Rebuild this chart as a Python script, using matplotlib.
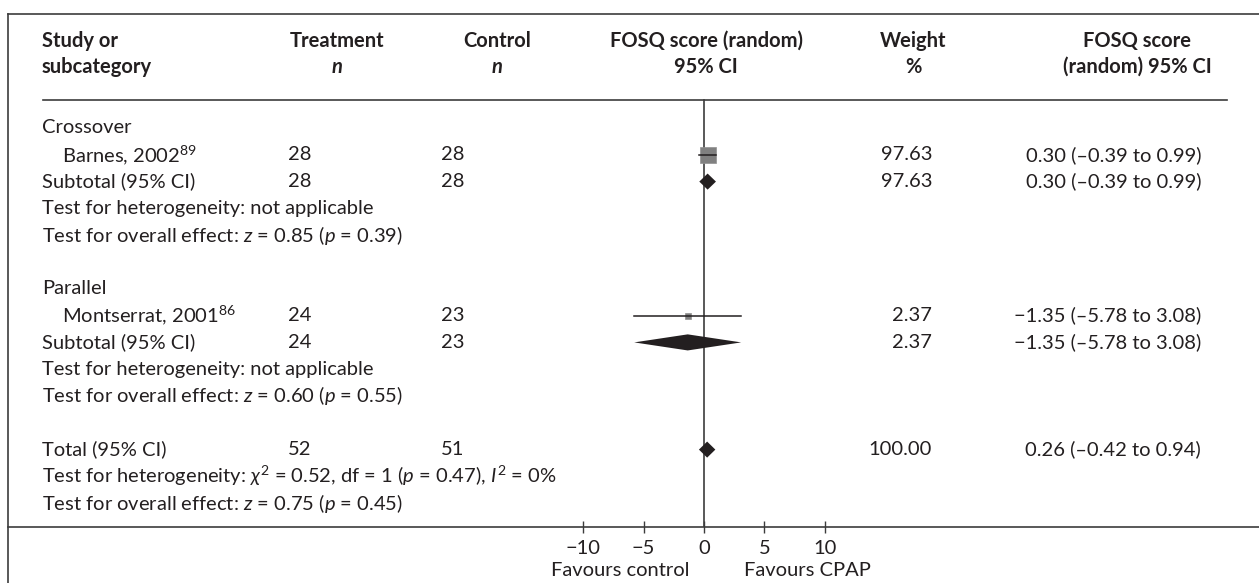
import matplotlib
matplotlib.use('Agg')
import matplotlib.pyplot as plt
from matplotlib.transforms import blended_transform_factory
from matplotlib.lines import Line2D

plt.rcParams['font.family'] = ['Lato', 'DejaVu Sans']
plt.rcParams['mathtext.fontset'] = 'custom'
plt.rcParams['mathtext.rm'] = 'Lato'
plt.rcParams['mathtext.it'] = 'Lato:italic'
plt.rcParams['mathtext.fallback'] = 'stixsans'

# studies, grouped by design
groups = ['Crossover', 'Parallel']
studies = ['Barnes, 2002', 'Montserrat, 2001']
refs = ['89', '86']
treat_n = [28, 24]
ctrl_n = [28, 23]
est = [0.30, -1.35]
ci_lo = [-0.39, -5.78]
ci_hi = [0.99, 3.08]
weight = [97.63, 2.37]
het_text = ['not applicable', 'not applicable']
z_text = ['0.85', '0.60']
p_text = ['0.39', '0.55']

# pooled result
total_n = (52, 51)
total_est, total_lo, total_hi = 0.26, -0.42, 0.94
total_weight = 100.00
total_het = r'$\chi^2$ = 0.52, df = 1 ($p$ = 0.47), $I^2$ = 0%'
total_z, total_p = '0.75', '0.45'

ticks = [-10, -5, 0, 5, 10]

W, H = 1259, 583
txt_col = '#231f20'
line_col = '#3c3c3c'
fs = 14.5

fig = plt.figure(figsize=(W / 100, H / 100), dpi=100)
ax = fig.add_axes([8 / W, 56 / H, 1 - 8 / W, 1 - 56 / H])
ax.set_xlim((8 - 704) / 12.07, (W - 704) / 12.07)
ax.set_ylim((527 - 128) / 26.8, -128 / 26.8)
for s in ['top', 'left', 'right']:
    ax.spines[s].set_visible(False)
ax.spines['bottom'].set_color(line_col)
ax.spines['bottom'].set_linewidth(1.2)
ax.set_yticks([])
ax.set_xticks(ticks)
ax.set_xticklabels([f'{t}'.replace('-', '\u2212') for t in ticks])
ax.tick_params(axis='x', direction='inout', length=8, width=1, color=line_col,
               labelsize=fs, labelcolor=txt_col, pad=5)

# frame lines around the table
def px(x, y):
    return x / W, 1 - y / H

for (x0, y0), (x1, y1) in [((8, 14), (W, 14)), ((8, 14), (8, H)), ((43, 100), (1227, 100))]:
    a, b = px(x0, y0)
    c, d = px(x1, y1)
    fig.add_artist(Line2D([a, c], [b, d], color=line_col, lw=1.2))

tr = blended_transform_factory(ax.transAxes, ax.transData)

def col(xpx):
    return (xpx - 8) / 1251

def put(xpx, row, s, ha='left', **kw):
    ax.text(col(xpx), row, s, transform=tr, ha=ha, va='center', fontsize=fs,
            color=txt_col, clip_on=False, **kw)

# header
hr1, hr2 = (41 - 128) / 26.8, (67 - 128) / 26.8
put(42, hr1, 'Study or', weight='bold')
put(42, hr2, 'subcategory', weight='bold')
put(337, hr1, 'Treatment', ha='center', weight='bold')
put(337, hr2, 'n', ha='center', weight='bold', style='italic')
put(497, hr1, 'Control', ha='center', weight='bold')
put(497, hr2, 'n', ha='center', weight='bold', style='italic')
put(706, hr1, 'FOSQ score (random)', ha='center', weight='bold')
put(706, hr2, '95% CI', ha='center', weight='bold')
put(913, hr1, 'Weight', ha='center', weight='bold')
put(913, hr2, '%', ha='center', weight='bold')
put(1137, hr1, 'FOSQ score', ha='center', weight='bold')
put(1137, hr2, '(random) 95% CI', ha='center', weight='bold')

def fmt(v):
    return f'{v:.2f}'.replace('-', '\u2212')

def ci_str(e, lo, hi):
    return f'{fmt(e)} ({fmt(lo).replace(chr(0x2212), chr(0x2013))} to {fmt(hi)})'

def diamond(row, e, lo, hi):
    h = 0.3
    ax.fill([lo, e, hi, e], [row, row - h, row, row + h], color=txt_col, lw=0, zorder=4)

# zero line
ax.plot([0, 0], [(100 - 128) / 26.8, ax.get_ylim()[0]], color=line_col, lw=1.2, zorder=2)

row = 0
for i in range(len(studies)):
    put(42, row, groups[i])
    r = row + 1
    put(62, r, f'{studies[i]}$^{{{refs[i]}}}$')
    put(288, r, str(treat_n[i]))
    put(441, r, str(ctrl_n[i]))
    put(932, r, f'{weight[i]:.2f}', ha='right')
    put(1201, r, ci_str(est[i], ci_lo[i], ci_hi[i]), ha='right')
    side = 5 + 11 * weight[i] / 100
    ax.plot(est[i], r, marker='s', ms=side * 0.72, color='#808080', mec='#909090',
            mew=0.5, zorder=3)
    ax.plot([ci_lo[i], ci_hi[i]], [r, r], color=txt_col, lw=1.1, zorder=3.5)
    r += 1
    put(42, r, 'Subtotal (95% CI)')
    put(288, r, str(treat_n[i]))
    put(441, r, str(ctrl_n[i]))
    put(932, r, f'{weight[i]:.2f}', ha='right')
    put(1201, r, ci_str(est[i], ci_lo[i], ci_hi[i]), ha='right')
    diamond(r, est[i], ci_lo[i], ci_hi[i])
    put(42, r + 1, f'Test for heterogeneity: {het_text[i]}')
    put(42, r + 2, f'Test for overall effect: $z$ = {z_text[i]} ($p$ = {p_text[i]})')
    row += 6

put(42, row, 'Total (95% CI)')
put(288, row, str(total_n[0]))
put(441, row, str(total_n[1]))
put(932, row, f'{total_weight:.2f}', ha='right')
put(1201, row, ci_str(total_est, total_lo, total_hi), ha='right')
diamond(row, total_est, total_lo, total_hi)
put(42, row + 1, f'Test for heterogeneity: {total_het}')
put(42, row + 2, f'Test for overall effect: $z$ = {total_z} ($p$ = {total_p})')

# favours labels under the axis
yfav = (571 - 128) / 26.8
put(620, yfav, 'Favours control', ha='center')
put(807, yfav, 'Favours CPAP', ha='center')

fig.savefig('out.png', dpi=100)
